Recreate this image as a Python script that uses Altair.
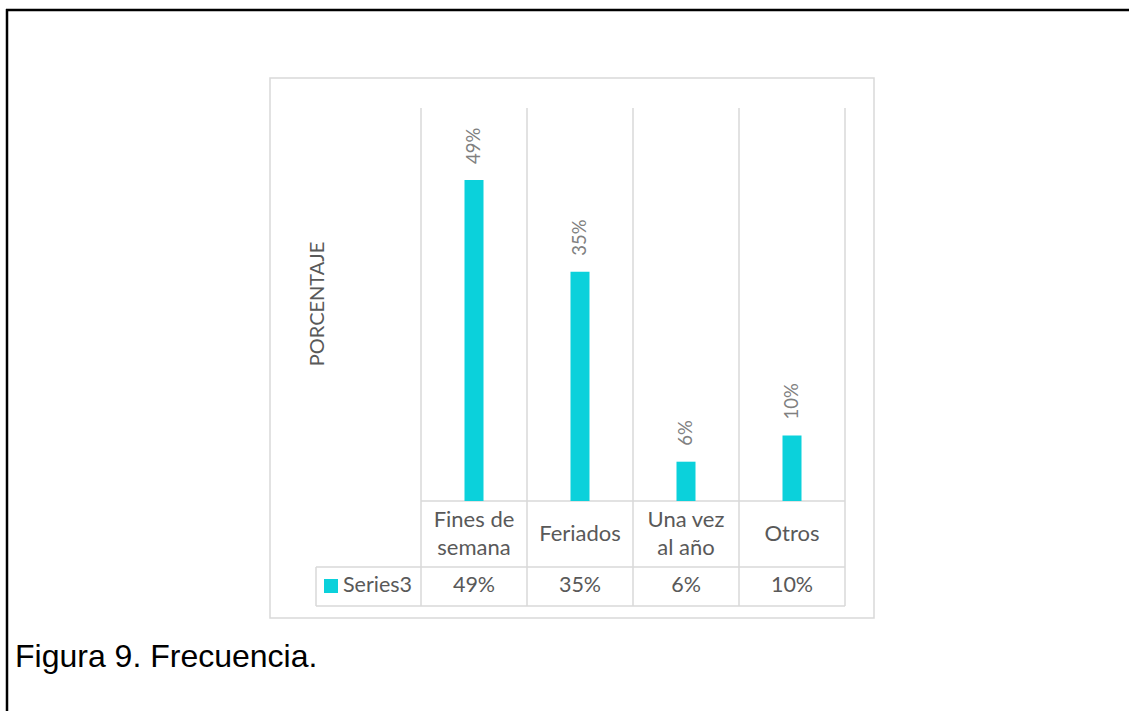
import altair as alt
import pandas as pd

# Categories and their shares (%)
categories = ["Fines de semana", "Feriados", "Una vez al año", "Otros"]
axis_labels = ["Fines de\nsemana", "Feriados", "Una vez\nal año", "Otros"]
values = [49, 35, 6, 10]
value_labels = ["49%", "35%", "6%", "10%"]
series_name = "Series3"
y_title = "PORCENTAJE"
caption = "Figura 9. Frecuencia."

BAR = "#0BD1DB"
GRID = "#d9d9d9"
TEXT = "#595959"
LABEL = "#808080"
FONT = "Lato"

df = pd.DataFrame({"cat": categories, "lab": axis_labels, "v": values, "t": value_labels})

W, H = 424, 393
LINE_H = 28
x_enc = alt.X("cat:N", sort=categories, axis=None,
              scale=alt.Scale(paddingInner=0, paddingOuter=0))
y_scale = alt.Scale(domain=[0, 60])

one = pd.DataFrame({"k": [0]})

# Outer black frame (left and top edges)
frame_left = alt.Chart(one).mark_rule(color="black", strokeWidth=2.5).encode(
    x=alt.value(-414), y=alt.value(-99), y2=alt.value(610))
frame_top = alt.Chart(one).mark_rule(color="black", strokeWidth=2.5).encode(
    x=alt.value(-415), x2=alt.value(710), y=alt.value(-98))

# Light gray chart-area border
chart_box = alt.Chart(one).mark_rect(fillOpacity=0, stroke=GRID, strokeWidth=1.5).encode(
    x=alt.value(-151), x2=alt.value(453), y=alt.value(-30), y2=alt.value(510))

# Category separators running through plot and data table
dividers = alt.Chart(df).mark_rule(color=GRID, strokeWidth=1.5).encode(
    x=alt.X("cat:N", sort=categories, axis=None, bandPosition=0,
            scale=alt.Scale(paddingInner=0, paddingOuter=0)),
    y=alt.value(0), y2=alt.value(498))
right_div = alt.Chart(one).mark_rule(color=GRID, strokeWidth=1.5).encode(
    x=alt.value(W), y=alt.value(0), y2=alt.value(498))

# Data-table horizontal lines
base_line = alt.Chart(one).mark_rule(color=GRID, strokeWidth=1.5).encode(
    x=alt.value(0), x2=alt.value(W), y=alt.value(H))
row_top = alt.Chart(one).mark_rule(color=GRID, strokeWidth=1.5).encode(
    x=alt.value(-105), x2=alt.value(W), y=alt.value(459))
row_bot = alt.Chart(one).mark_rule(color=GRID, strokeWidth=1.5).encode(
    x=alt.value(-105), x2=alt.value(W), y=alt.value(498))
row_left = alt.Chart(one).mark_rule(color=GRID, strokeWidth=1.5).encode(
    x=alt.value(-105), y=alt.value(459), y2=alt.value(498))

bars = alt.Chart(df).mark_bar(width=19, color=BAR).encode(
    x=x_enc, y=alt.Y("v:Q", scale=y_scale, axis=None))

bar_text = alt.Chart(df).mark_text(
    angle=270, align="left", baseline="middle", dx=16,
    font=FONT, fontSize=18.5, color=LABEL).encode(
    x=x_enc, y=alt.Y("v:Q", scale=y_scale, axis=None), text="t:N")

# Category labels, vertically centred in the label row whatever their line count
cat_text = alt.Chart(df).transform_calculate(
    ypix=f"426 - (length(split(datum.lab, '\\n')) - 1) * {LINE_H / 2}"
).mark_text(
    lineBreak="\n", lineHeight=LINE_H, baseline="middle", align="center",
    font=FONT, fontSize=22, color=TEXT).encode(
    x=x_enc, y=alt.Y("ypix:Q", scale=None, axis=None), text="lab:N")

val_text = alt.Chart(df).mark_text(
    baseline="middle", align="center", font=FONT, fontSize=21.5, color=TEXT).encode(
    x=x_enc, y=alt.value(478), text="t:N")

legend_sq = alt.Chart(one).mark_rect(color=BAR).encode(
    x=alt.value(-97), x2=alt.value(-83), y=alt.value(471), y2=alt.value(485))
legend_txt = alt.Chart(pd.DataFrame({"s": [series_name]})).mark_text(
    align="left", baseline="middle", font=FONT, fontSize=21.5, color=TEXT).encode(
    x=alt.value(-78), y=alt.value(478), text="s:N")

ytitle = alt.Chart(pd.DataFrame({"s": [y_title]})).mark_text(
    angle=270, align="center", baseline="middle", font=FONT, fontSize=20,
    color=TEXT).encode(x=alt.value(-103), y=alt.value(196), text="s:N")

cap = alt.Chart(pd.DataFrame({"s": [caption]})).mark_text(
    align="left", baseline="middle", font="Liberation Sans", fontSize=32,
    color="black").encode(x=alt.value(-406), y=alt.value(549), text="s:N")

chart = alt.layer(
    frame_left, frame_top, chart_box, dividers, right_div, base_line,
    row_top, row_bot, row_left, bars, bar_text, cat_text, val_text,
    legend_sq, legend_txt, ytitle, cap,
).properties(
    width=W, height=H, autosize="none",
    padding={"left": 421, "top": 108, "right": 284, "bottom": 210},
    background="white",
).configure_view(stroke=None)

chart.save("out.html", embed_options={"renderer": "svg", "actions": False})
